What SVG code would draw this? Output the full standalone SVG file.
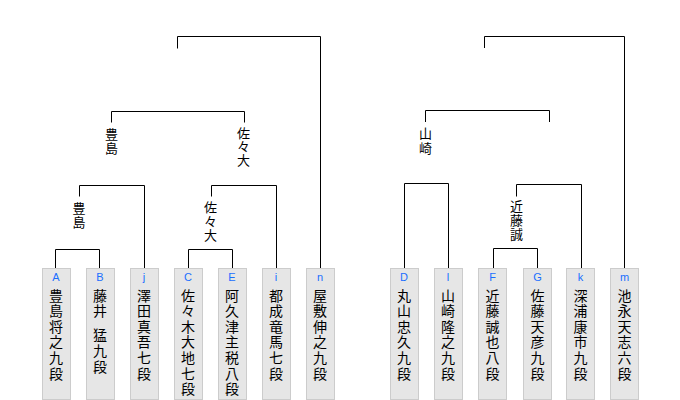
<svg xmlns="http://www.w3.org/2000/svg" width="680" height="400" viewBox="0 0 680 400">
<style>
.box{fill:#e6e6e6;stroke:#cccccc;stroke-width:1}
.seed{font-family:"Liberation Sans","DejaVu Sans",sans-serif;font-size:11px;fill:#1a6eff;text-anchor:middle}
.name{font-family:"Noto Sans CJK JP","Noto Sans CJK SC",sans-serif;font-size:14px;letter-spacing:1.6px;fill:#000;writing-mode:vertical-rl;text-anchor:start}
.win{font-family:"Noto Sans CJK JP","Noto Sans CJK SC",sans-serif;font-size:13px;fill:#000;writing-mode:vertical-rl;text-anchor:start}
.ln{fill:none;stroke:#000;stroke-width:1}
</style>
<rect width="680" height="400" fill="#ffffff"/>
<g id="connectors">
<path class="ln" d="M177.5 48.5V36.5H320.5V269"/>
<path class="ln" d="M111.5 122.5V111.5H244.5V122.5"/>
<path class="ln" d="M79.5 196.5V185.5H144.5V269"/>
<path class="ln" d="M211.5 196.5V185.5H276.5V269"/>
<path class="ln" d="M55.5 269V249.5H99.5V269"/>
<path class="ln" d="M188.5 269V249.5H232.5V269"/>
<path class="ln" d="M484.5 48V36.5H624.5V269"/>
<path class="ln" d="M425.5 122V110.5H549.5V122"/>
<path class="ln" d="M404.5 269V183.5H448.5V269"/>
<path class="ln" d="M516.5 196.5V184.5H581.5V269"/>
<path class="ln" d="M493.5 269V248.5H537.5V269"/>
</g>
<g id="w-toshima-1"><text class="win" x="111.5" y="127.8" letter-spacing="1">豊島</text></g>
<g id="w-sasaki-1"><text class="win" x="243.5" y="126.8" letter-spacing="0.2">佐々大</text></g>
<g id="w-toshima-2"><text class="win" x="79" y="201.8" letter-spacing="0.4">豊島</text></g>
<g id="w-sasaki-2"><text class="win" x="210.5" y="200.2" letter-spacing="1">佐々大</text></g>
<g id="w-yamasaki"><text class="win" x="425.5" y="126.8" letter-spacing="1.4">山崎</text></g>
<g id="w-kondo"><text class="win" x="516.5" y="199.5" letter-spacing="1">近藤誠</text></g>
<g id="p-A"><rect class="box" x="42.5" y="268.5" width="28" height="131"/><text class="seed" x="56" y="281">A</text><text class="name" x="56" y="288.3">豊島将之九段</text></g>
<g id="p-B"><rect class="box" x="86.5" y="268.5" width="28" height="131"/><text class="seed" x="100" y="281">B</text><text class="name" x="100" y="288.3" xml:space="preserve">藤井&#8194;猛九段</text></g>
<g id="p-j"><rect class="box" x="130.5" y="268.5" width="28" height="131"/><text class="seed" x="144" y="281">j</text><text class="name" x="144" y="288.3">澤田真吾七段</text></g>
<g id="p-C"><rect class="box" x="174.5" y="268.5" width="28" height="131"/><text class="seed" x="188" y="281">C</text><text class="name" x="188" y="288.3">佐々木大地七段</text></g>
<g id="p-E"><rect class="box" x="218.5" y="268.5" width="28" height="131"/><text class="seed" x="232" y="281">E</text><text class="name" x="232" y="288.3">阿久津主税八段</text></g>
<g id="p-i"><rect class="box" x="262.5" y="268.5" width="28" height="131"/><text class="seed" x="276" y="281">i</text><text class="name" x="276" y="288.3">都成竜馬七段</text></g>
<g id="p-n"><rect class="box" x="306.5" y="268.5" width="28" height="131"/><text class="seed" x="320" y="281">n</text><text class="name" x="320" y="288.3">屋敷伸之九段</text></g>
<g id="p-D"><rect class="box" x="390.5" y="268.5" width="28" height="131"/><text class="seed" x="404" y="281">D</text><text class="name" x="404" y="288.3">丸山忠久九段</text></g>
<g id="p-l"><rect class="box" x="434.5" y="268.5" width="28" height="131"/><text class="seed" x="448" y="281">l</text><text class="name" x="448" y="288.3">山崎隆之九段</text></g>
<g id="p-F"><rect class="box" x="478.5" y="268.5" width="28" height="131"/><text class="seed" x="492.5" y="281">F</text><text class="name" x="492.5" y="288.3">近藤誠也八段</text></g>
<g id="p-G"><rect class="box" x="523.5" y="268.5" width="28" height="131"/><text class="seed" x="537.5" y="281">G</text><text class="name" x="537.5" y="288.3">佐藤天彦九段</text></g>
<g id="p-k"><rect class="box" x="566.5" y="268.5" width="28" height="131"/><text class="seed" x="580.5" y="281">k</text><text class="name" x="580.5" y="288.3">深浦康市九段</text></g>
<g id="p-m"><rect class="box" x="610.5" y="268.5" width="28" height="131"/><text class="seed" x="624.5" y="281">m</text><text class="name" x="624.5" y="288.3">池永天志六段</text></g>
</svg>
